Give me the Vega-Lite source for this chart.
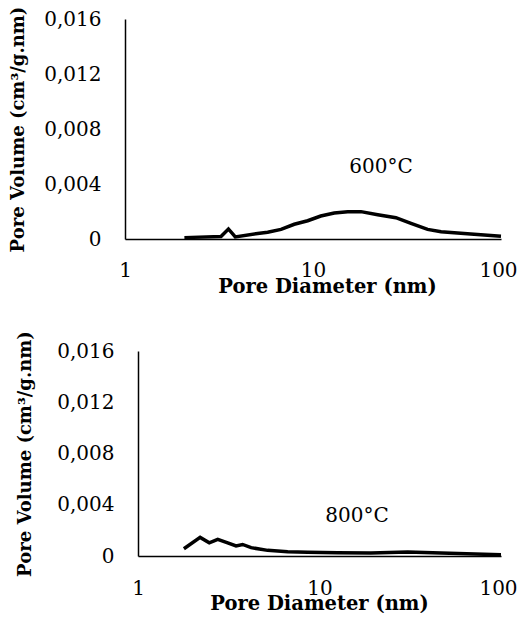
{
  "$schema": "https://vega.github.io/schema/vega-lite/v6.json",
  "background": "white",
  "padding": {"left": 9, "top": 6, "right": 0, "bottom": 0},
  "spacing": 34,
  "config": {
    "view": {"stroke": null},
    "font": "DejaVu Serif",
    "axis": {
      "grid": false,
      "ticks": false,
      "tickSize": 0,
      "labelFlush": false,
      "domainColor": "black",
      "domainWidth": 1.5,
      "labelColor": "black",
      "titleColor": "black",
      "labelFont": "DejaVu Serif",
      "titleFont": "DejaVu Serif",
      "labelFontSize": 20,
      "titleFontWeight": "bold"
    }
  },
  "datasets": {
    "t600": [
      {"d": 2.07, "v": 0.0001},
      {"d": 3.24, "v": 0.00018},
      {"d": 3.55, "v": 0.00073},
      {"d": 3.86, "v": 0.00015},
      {"d": 5.08, "v": 0.0004},
      {"d": 5.74, "v": 0.00049},
      {"d": 6.76, "v": 0.0007},
      {"d": 7.95, "v": 0.00107},
      {"d": 9.37, "v": 0.00133},
      {"d": 11.0, "v": 0.00167},
      {"d": 12.97, "v": 0.00189},
      {"d": 15.3, "v": 0.00199},
      {"d": 18.0, "v": 0.00199},
      {"d": 22.1, "v": 0.00177},
      {"d": 27.6, "v": 0.00155},
      {"d": 33.2, "v": 0.00114},
      {"d": 40.7, "v": 0.0007},
      {"d": 48.0, "v": 0.00053},
      {"d": 69.0, "v": 0.00036},
      {"d": 100.0, "v": 0.0002}
    ],
    "t800": [
      {"d": 1.79, "v": 0.00057},
      {"d": 2.2, "v": 0.00145},
      {"d": 2.47, "v": 0.00103},
      {"d": 2.75, "v": 0.0013},
      {"d": 3.12, "v": 0.00103},
      {"d": 3.47, "v": 0.00078},
      {"d": 3.77, "v": 0.0009},
      {"d": 4.2, "v": 0.00065},
      {"d": 5.18, "v": 0.00044},
      {"d": 6.68, "v": 0.00033},
      {"d": 8.6, "v": 0.00029},
      {"d": 12.6, "v": 0.00026},
      {"d": 19.2, "v": 0.00023},
      {"d": 30.6, "v": 0.00031},
      {"d": 46.7, "v": 0.00023},
      {"d": 100.0, "v": 0.0001}
    ],
    "lab600": [{"d": 23, "v": 0.00524, "t": "600°C"}],
    "lab800": [{"d": 16.1, "v": 0.0031, "t": "800°C"}]
  },
  "vconcat": [
    {
      "width": 376,
      "height": 220,
      "layer": [
        {
          "data": {"name": "t600"},
          "mark": {"type": "line", "color": "black", "strokeWidth": 3.5},
          "encoding": {
            "x": {"field": "d", "type": "quantitative", "scale": {"type": "log", "domain": [1, 100], "nice": false},
              "axis": {"values": [1, 10, 100], "format": "d", "labelOffset": {"condition": {"test": "datum.value == 100", "value": -3}, "value": 0}, "labelPadding": 21, "title": "Pore Diameter (nm)", "titleFontSize": 19.5, "titlePadding": -3, "titleX": 202}},
            "y": {"field": "v", "type": "quantitative", "scale": {"domain": [0, 0.016], "nice": false},
              "axis": {"values": [0, 0.004, 0.008, 0.012, 0.016], "labelExpr": "datum.value == 0 ? '0' : replace(format(datum.value, '.3f'), '.', ',')", "labelPadding": 24, "title": "Pore Volume (cm³/g.nm)", "titleFontSize": 18, "titlePadding": 16}}
          }
        },
        {
          "data": {"name": "lab600"},
          "mark": {"type": "text", "fontSize": 20, "color": "black", "font": "DejaVu Serif"},
          "encoding": {
            "x": {"field": "d", "type": "quantitative"},
            "y": {"field": "v", "type": "quantitative"},
            "text": {"field": "t"}
          }
        }
      ]
    },
    {
      "width": 376,
      "height": 205,
      "layer": [
        {
          "data": {"name": "t800"},
          "mark": {"type": "line", "color": "black", "strokeWidth": 3.5},
          "encoding": {
            "x": {"field": "d", "type": "quantitative", "scale": {"type": "log", "domain": [1, 100], "nice": false, "range": [13, 376]},
              "axis": {"values": [1, 10, 100], "format": "d", "labelOffset": {"condition": {"test": "datum.value == 100", "value": -3}, "value": 0}, "labelPadding": 22, "title": "Pore Diameter (nm)", "titleFontSize": 19.5, "titlePadding": -4, "titleX": 194}},
            "y": {"field": "v", "type": "quantitative", "scale": {"domain": [0, 0.016], "nice": false},
              "axis": {"offset": -13, "values": [0, 0.004, 0.008, 0.012, 0.016], "labelExpr": "datum.value == 0 ? '0' : replace(format(datum.value, '.3f'), '.', ',')", "labelPadding": 24, "title": "Pore Volume (cm³/g.nm)", "titleFontSize": 18, "titlePadding": 22}}
          }
        },
        {
          "data": {"name": "lab800"},
          "mark": {"type": "text", "fontSize": 20, "color": "black", "font": "DejaVu Serif"},
          "encoding": {
            "x": {"field": "d", "type": "quantitative"},
            "y": {"field": "v", "type": "quantitative"},
            "text": {"field": "t"}
          }
        }
      ]
    }
  ]
}
